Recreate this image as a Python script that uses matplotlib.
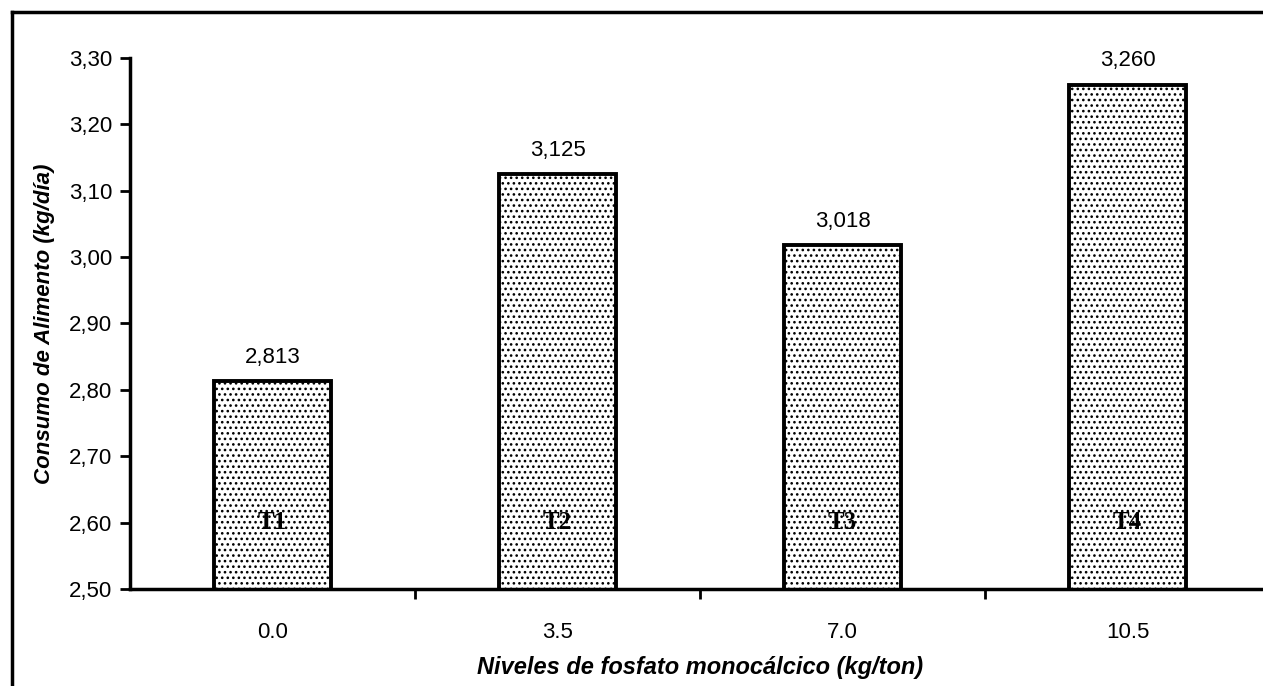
import matplotlib.pyplot as plt
from matplotlib.lines import Line2D

# data
niveles = ["0.0", "3.5", "7.0", "10.5"]
tratamientos = ["T1", "T2", "T3", "T4"]
consumo = [2.813, 3.125, 3.018, 3.260]
yticks = [2.50, 2.60, 2.70, 2.80, 2.90, 3.00, 3.10, 3.20, 3.30]

plt.rcParams["font.family"] = ["Liberation Sans", "DejaVu Sans"]
plt.rcParams["hatch.linewidth"] = 1.1

fig = plt.figure(figsize=(12.63, 6.86), dpi=100)
ax = fig.add_axes([0.103, 0.1414, 0.9026, 0.7741])

x = list(range(len(consumo)))
bars = ax.bar(x, consumo, width=0.41, bottom=0, color="white", edgecolor="black",
              linewidth=2.8, hatch="...", zorder=2)

ax.set_ylim(2.5, 3.3)
ax.set_xlim(-0.5, len(consumo) - 0.5)
ax.set_yticks(yticks)
ax.set_yticklabels([f"{v:.2f}".replace(".", ",") for v in yticks], fontsize=16)
ax.set_xticks(x)
ax.set_xticklabels(niveles, fontsize=16)
ax.tick_params(axis="x", which="major", length=0, pad=24)
ax.set_xticks([i + 0.5 for i in x[:-1]], minor=True)
ax.tick_params(axis="x", which="minor", length=7, width=2)
ax.tick_params(axis="y", length=7, width=2, pad=6)

for s in ["top", "right"]:
    ax.spines[s].set_visible(False)
for s in ["left", "bottom"]:
    ax.spines[s].set_linewidth(2.5)

for b, v, t in zip(bars, consumo, tratamientos):
    ax.text(b.get_x() + b.get_width() / 2, v + 0.02, f"{v:.3f}".replace(".", ","),
            ha="center", va="bottom", fontsize=16)
    ax.text(b.get_x() + b.get_width() / 2, 2.60, t, ha="center", va="center",
            fontsize=18, fontweight="bold", family=["Liberation Serif", "DejaVu Serif"],
            zorder=3)

ax.set_ylabel("Consumo de Alimento (kg/día)", fontsize=16, fontweight="bold",
              fontstyle="italic", labelpad=10)
ax.set_xlabel("Niveles de fosfato monocálcico (kg/ton)", fontsize=17, fontweight="bold",
              fontstyle="italic", labelpad=9)

# outer frame of the scanned figure
fig.add_artist(Line2D([0.0095, 1.0], [0.9825, 0.9825], color="black", lw=2.5))
fig.add_artist(Line2D([0.0095, 0.0095], [0.0, 0.9825], color="black", lw=2.5))

fig.savefig("out.png", dpi=100)
